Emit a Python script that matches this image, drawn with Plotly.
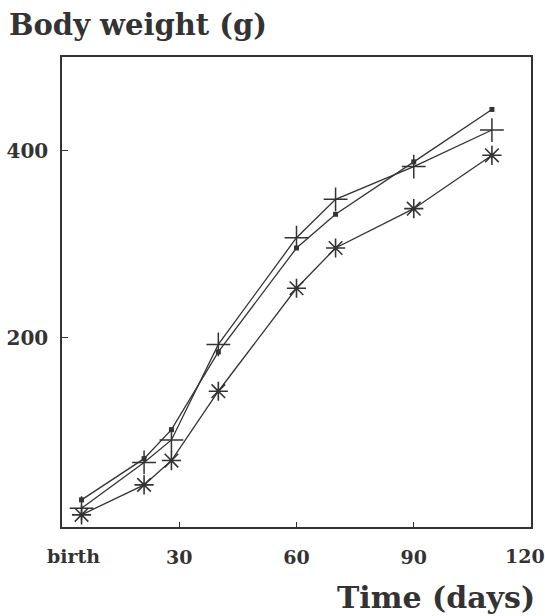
import plotly.graph_objects as go

days = [5, 21, 28, 40, 60, 70, 90, 110]
series_square = [27, 71, 102, 185, 296, 332, 388, 444]
series_plus = [18, 67, 91, 193, 307, 348, 383, 422]
series_star = [11, 43, 69, 143, 253, 296, 338, 395]

x_tickvals = [0, 30, 60, 90, 120]
x_ticktext = ["", "30", "60", "90", ""]
y_tickvals = [200, 400]
y_ticktext = ["200", "400"]

FONT = "DejaVu Serif"
INK = "#333333"

L, T = 62, 57
PW, PH = 469, 470
W, H = 545, 616

fig = go.Figure()
fig.add_trace(go.Scatter(x=days, y=series_square, mode="lines+markers",
                         line=dict(color=INK, width=1.3),
                         marker=dict(symbol="square", size=5, color=INK)))
fig.add_trace(go.Scatter(x=days, y=series_plus, mode="lines+markers",
                         line=dict(color=INK, width=1.3),
                         marker=dict(symbol="cross-thin-open", size=17,
                                     line=dict(color=INK, width=1.5))))
fig.add_trace(go.Scatter(x=days, y=series_star, mode="lines+markers",
                         line=dict(color=INK, width=1.3),
                         marker=dict(symbol="asterisk-open", size=16,
                                     line=dict(color=INK, width=1.6))))

tick_font = dict(family=FONT, size=19, color=INK, weight="bold")
fig.update_layout(
    width=W, height=H,
    margin=dict(l=L, r=W - L - PW, t=T, b=H - T - PH, pad=0, autoexpand=False),
    paper_bgcolor="white", plot_bgcolor="white",
    showlegend=False,
    font=dict(family=FONT, color=INK),
    xaxis=dict(range=[0, 120], tickvals=x_tickvals, ticktext=x_ticktext,
               ticks="inside", ticklen=5, tickcolor=INK, tickwidth=1.3,
               showgrid=False, zeroline=False, showline=True, mirror=True,
               linecolor=INK, linewidth=1.5, automargin=False,
               tickfont=tick_font, ticklabelstandoff=12),
    yaxis=dict(range=[-2, 500], tickvals=y_tickvals, ticktext=y_ticktext,
               ticks="inside", ticklen=6, tickcolor=INK, tickwidth=1.3,
               showgrid=False, zeroline=False, showline=True, mirror=True,
               linecolor=INK, linewidth=1.5, automargin=False,
               tickfont=dict(family=FONT, size=20, color=INK, weight="bold"),
               ticklabelstandoff=8),
)

label_y = -(556 - 527) / PH
fig.add_annotation(text="birth", x=3, xref="x", y=label_y, yref="paper",
                   showarrow=False, xanchor="center", yanchor="middle",
                   font=tick_font)
fig.add_annotation(text="120", x=118.4, xref="x", y=label_y, yref="paper",
                   showarrow=False, xanchor="center", yanchor="middle",
                   font=tick_font)
fig.add_annotation(text="Body weight (g)", x=(7 - L) / PW, xref="paper",
                   y=1 + (T - 25) / PH, yref="paper",
                   showarrow=False, xanchor="left", yanchor="middle",
                   font=dict(family=FONT, size=29, color=INK, weight="bold"))
fig.add_annotation(text="Time (days)", x=(537 - L) / PW, xref="paper",
                   y=-(597 - 527) / PH, yref="paper",
                   showarrow=False, xanchor="right", yanchor="middle",
                   font=dict(family=FONT, size=30, color=INK, weight="bold"))

fig.write_html(
    "out.html",
    config={"displayModeBar": False},
    post_script="document.body.style.margin='0';document.body.style.overflow='hidden';",
)
